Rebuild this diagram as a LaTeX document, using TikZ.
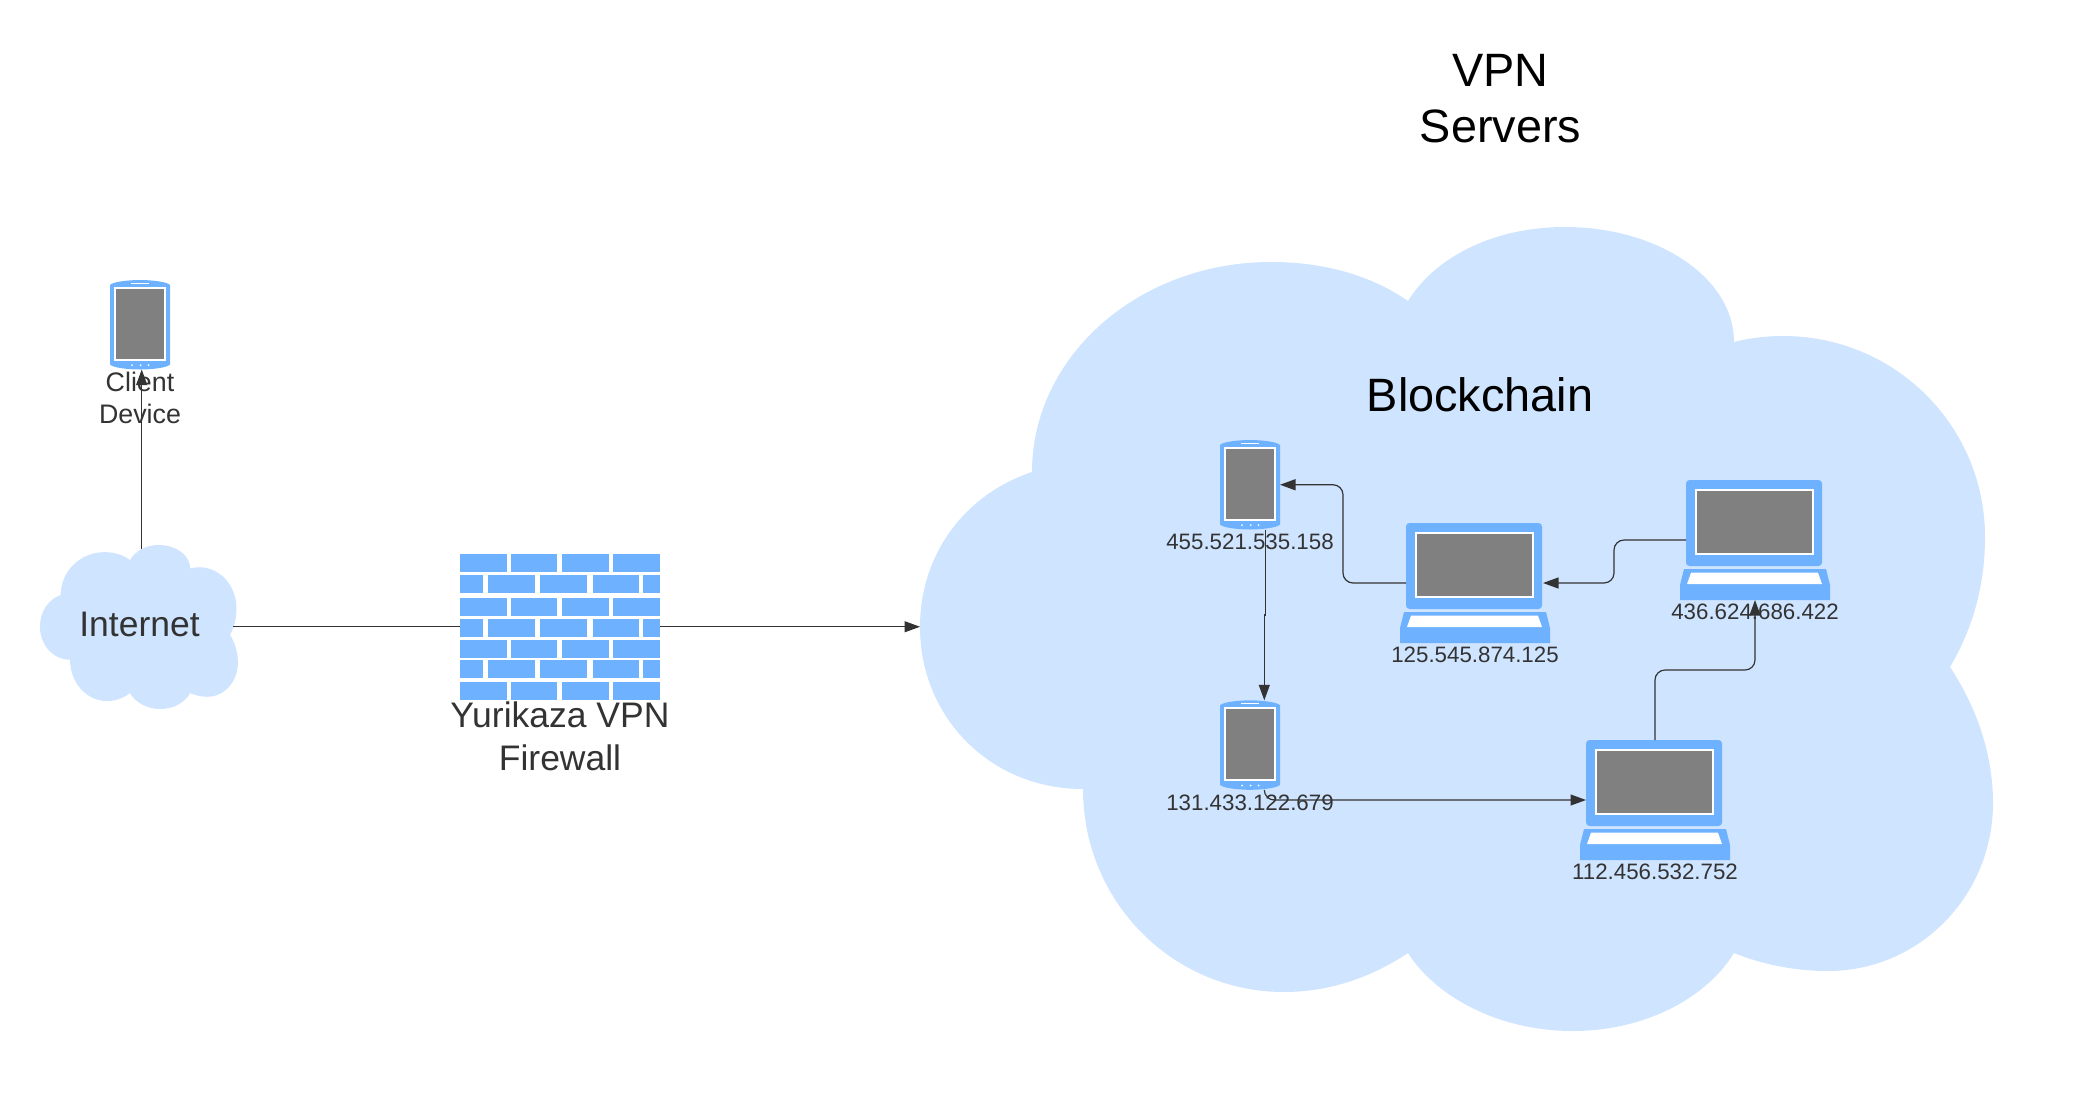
\documentclass[tikz,border=0pt]{standalone}
\usepackage{fontspec}
\setmainfont{Liberation Sans}
\usetikzlibrary{arrows.meta}
\definecolor{cloudblue}{HTML}{CFE4FF}
\definecolor{devblue}{HTML}{6DB1FF}
\definecolor{screengray}{HTML}{808080}
\definecolor{inktext}{HTML}{333333}
\tikzset{
  conn/.style={draw=inktext,line width=1.2pt},
  arrowconn/.style={conn,-{Triangle[length=15.5pt,width=11pt]}},
  bendconn/.style={rounded corners=10pt},
  iplabel/.style={text=inktext,font=\fontsize{22.3}{26}\selectfont,inner sep=0pt},
  midlabel/.style={text=inktext,font=\fontsize{35.5}{43}\selectfont,inner sep=0pt,align=center},
  smalllabel/.style={text=inktext,font=\fontsize{26.8}{32}\selectfont,inner sep=0pt,align=center},
  biglabel/.style={text=black,font=\fontsize{46.8}{56}\selectfont,inner sep=0pt,align=center},
  brick/.style={fill=devblue,draw=none}
}
\newcommand{\cloudshape}{%
  \fill[cloudblue] (1032,472)
    .. controls (1032,356) and (1139,262) .. (1271,262)
    .. controls (1325,262) and (1372,276) .. (1408,301)
    .. controls (1436,256) and (1495,227) .. (1565,227)
    .. controls (1658,227) and (1734,278) .. (1734,342)
    .. controls (1750,338) and (1766,336) .. (1783,336)
    .. controls (1895,336) and (1985,426) .. (1985,537)
    .. controls (1985,585) and (1973,628) .. (1950,667)
    .. controls (1977,708) and (1993,755) .. (1993,803)
    .. controls (1993,896) and (1919,971) .. (1828,971)
    .. controls (1796,971) and (1764,965) .. (1734,953)
    .. controls (1705,1000) and (1642,1031) .. (1573,1031)
    .. controls (1500,1031) and (1437,998) .. (1408,953)
    .. controls (1372,977) and (1330,992) .. (1284,992)
    .. controls (1173,992) and (1083,902) .. (1083,789)
    .. controls (990,789) and (920,717) .. (920,627)
    .. controls (920,553) and (966,494) .. (1032,472) -- cycle;}
% \phoneicon{name}{left}{top}
\newcommand{\phoneicon}[3]{%
  \node[inner sep=0pt,outer sep=0pt,minimum width=60pt,minimum height=89.5pt] (#1) at (#2+30,#3+44.75) {};
  \begin{scope}[shift={(#2,#3)}]
    \fill[devblue] (0,5) .. controls (3,1.5) and (20,0) .. (30,0) .. controls (40,0) and (57,1.5) .. (60,5)
      -- (60,84.5) .. controls (57,88) and (40,89.5) .. (30,89.5) .. controls (20,89.5) and (3,88) .. (0,84.5) -- cycle;
    \fill[white] (4,6.7) rectangle (56,80.7);
    \fill[screengray] (6,8.7) rectangle (54,79);
    \fill[white] (21,3) rectangle (39,4);
    \fill[white] (22,85.2) circle (1);
    \fill[white] (30.7,85.2) circle (1);
    \fill[white] (38.5,85.2) circle (1);
  \end{scope}}
% \laptopicon{name}{left}{top}
\newcommand{\laptopicon}[3]{%
  \node[inner sep=0pt,outer sep=0pt,minimum width=150pt,minimum height=120pt] (#1) at (#2+75,#3+60) {};
  \begin{scope}[shift={(#2,#3)}]
    \fill[devblue,rounded corners=3.5pt] (6,0) rectangle (142,86);
    \fill[white] (15,8.7) rectangle (134,75);
    \fill[screengray] (17,11) rectangle (132,73);
    \fill[devblue] (4,89) -- (146,89) -- (150,105) -- (150,120) -- (0,120) -- (0,105) -- cycle;
    \fill[white] (11,92.7) -- (138,92.7) -- (142,104) -- (7,104) -- cycle;
  \end{scope}}
\begin{document}
\begin{tikzpicture}[x=1pt,y=-1pt]
\useasboundingbox (0,0) rectangle (2099,1098);
\fill[white] (0,0) rectangle (2099,1098);

% clouds
\cloudshape
\begin{scope}[shift={(-129.8,498.7)},xscale=.18453,yscale=.20398]
  \cloudshape
\end{scope}
\node[inner sep=0pt,outer sep=0pt,minimum width=1073pt,minimum height=804pt] (chain) at (1456.5,629) {};
\node[inner sep=0pt,outer sep=0pt,minimum width=198pt,minimum height=164pt] (internet) at (139,627) {};

% firewall
\node[inner sep=0pt,outer sep=0pt,minimum width=200pt,minimum height=145.5pt] (firewall) at (560,626.75) {};
\foreach \yt/\yb in {554/572,597.7/615.5,640/658,681.5/699.5}{
  \foreach \xl/\xr in {460/507,511/557.3,562/609,613/660}{
    \fill[brick] (\xl,\yt) rectangle (\xr,\yb);}}
\foreach \yt/\yb in {575/593,619/637,660/678}{
  \foreach \xl/\xr in {460.3/483,488/535,540/587,592.7/639.3,643.3/659.5}{
    \fill[brick] (\xl,\yt) rectangle (\xr,\yb);}}

% devices
\phoneicon{client}{110}{280}
\phoneicon{phoneA}{1220}{440}
\phoneicon{phoneB}{1220}{700.3}
\laptopicon{lapA}{1400}{523}
\laptopicon{lapB}{1680}{480}
\laptopicon{lapC}{1580}{740}

% labels
\node[smalllabel] (clientlabel) at (140,398) {Client\\Device};
\node[midlabel] (internetlabel) at (139.5,624) {Internet};
\node[midlabel] (firewalllabel) at (560,736.5) {Yurikaza VPN\\Firewall};
\node[biglabel] (vpnlabel) at (1500.5,99) {VPN\\Servers};
\node[biglabel] (chainlabel) at (1480,395) {Blockchain};
\node[iplabel] (ipA) at (1250,542) {455.521.535.158};
\node[iplabel] (ipB) at (1250,803) {131.433.122.679};
\node[iplabel] (ipC) at (1475,655) {125.545.874.125};
\node[iplabel] (ipD) at (1755,612) {436.624.686.422};
\node[iplabel] (ipE) at (1655,872) {112.456.532.752};

% bend points of connectors
\coordinate (bendA) at (1343,530);
\coordinate (bendB) at (1614,560);
\coordinate (bendC) at (1700,670);
\coordinate (jogA) at (1265.3,615);
\coordinate (jogB) at (1264.3,615);

% connectors
\draw[arrowconn] ([shift={(2.7,4)}]internet.north) -- ([xshift=1.7pt]client.south);
\draw[conn] ([xshift=-5pt]internet.east |- firewall.west) -- (firewall.west);
\draw[arrowconn] (firewall.east) -- (firewall.east -| chain.west);
\draw[arrowconn,bendconn] ([xshift=6pt]lapA.west) -| (bendA) |- (phoneA.east);
\draw[arrowconn,bendconn] ([xshift=6pt]lapB.west) -| (bendB) |- ([xshift=-7pt]lapA.east);
\draw[conn] ([xshift=15.3pt]phoneA.south) -- (jogA) -- (jogB);
\draw[arrowconn] (jogB) -- ([xshift=14.3pt]phoneB.north);
\draw[arrowconn,bendconn] ([xshift=14.3pt]phoneB.south) |- ([xshift=6pt]lapC.west);
\draw[arrowconn,bendconn] (lapC.north) |- (bendC) -| (lapB.south);
\end{tikzpicture}
\end{document}
